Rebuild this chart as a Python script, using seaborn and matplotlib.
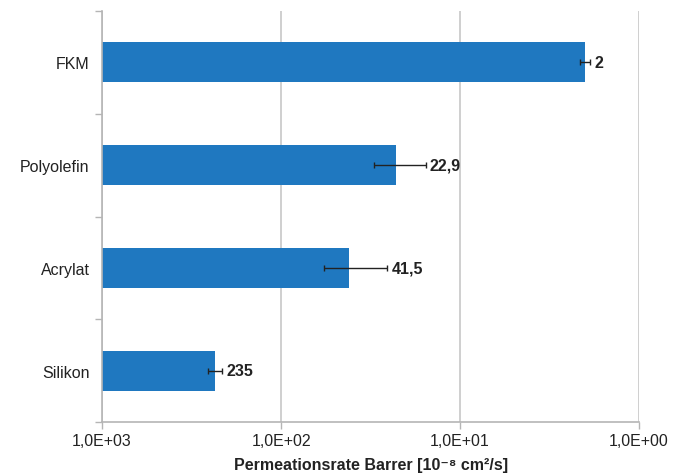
import numpy as np
import pandas as pd
import matplotlib
matplotlib.use("Agg")
import matplotlib.pyplot as plt
import seaborn as sns
from matplotlib.ticker import FixedLocator, FuncFormatter

# daten aus dem bild
materials = ["FKM", "Polyolefin", "Acrylat", "Silikon"]
rates = [2.0, 22.9, 41.5, 235.0]
errors = [0.13, 7.3, 16.0, 22.0]
rate_labels = ["2", "22,9", "41,5", "235"]
x_ticks = [1000, 100, 10, 1]
x_tick_labels = ["1,0E+03", "1,0E+02", "1,0E+01", "1,0E+00"]

bar_color = "#1f78c0"
grid_color = "#cfcfcf"
axis_color = "#b5b5b5"

sns.set_theme(style="white")
plt.rcParams['font.family'] = ['Liberation Sans', 'DejaVu Sans']

df = pd.DataFrame({"material": materials, "rate": rates})

fig = plt.figure(figsize=(6.85, 4.77), dpi=100)
ax = fig.add_axes([0.149, 0.113, 0.784, 0.862])

sns.barplot(data=df, x="rate", y="material", orient="h", color=bar_color,
            saturation=1, width=0.39, errorbar=None, ax=ax, zorder=2)

# balken sollen bei 1000 beginnen (achse invertiert, log)
ax.set_xscale("log")
for p, v in zip(ax.patches, rates):
    p.set_x(v)
    p.set_width(x_ticks[0] - v)
    p.set_edgecolor("none")

ax.errorbar(rates, np.arange(len(rates)), xerr=errors, fmt="none",
            ecolor="#222222", elinewidth=1.0, capsize=2.5, capthick=1.0, zorder=3)

for i, (v, e, lab) in enumerate(zip(rates, errors, rate_labels)):
    ax.annotate(lab, xy=(v - e, i), xytext=(3, 0), textcoords="offset points",
                ha="left", va="center", fontsize=11.5, fontweight="bold",
                color="#222222")

ax.set_xlim(1000, 1)
ax.set_ylim(3.5, -0.5)
ax.xaxis.set_major_locator(FixedLocator(x_ticks))
ax.xaxis.set_minor_locator(FixedLocator([]))
ax.xaxis.set_major_formatter(FuncFormatter(
    lambda val, pos: x_tick_labels[x_ticks.index(round(val))] if round(val) in x_ticks else ""))

ax.grid(axis="x", color=grid_color, linewidth=1.4, zorder=0)
ax.set_axisbelow(True)

# kleine striche zwischen den kategorien
ax.yaxis.set_major_locator(FixedLocator(np.arange(len(materials))))
ax.yaxis.set_minor_locator(FixedLocator(np.arange(len(materials) + 1) - 0.5))
ax.tick_params(axis="y", which="major", length=0, labelsize=11.5, pad=9, labelcolor="#222222")
ax.tick_params(axis="y", which="minor", length=5, width=1, color=axis_color, left=True)
ax.tick_params(axis="x", which="major", length=5, width=1, color=axis_color, bottom=True,
               labelsize=11.5, pad=3, labelcolor="#222222")

for side in ["top", "right"]:
    ax.spines[side].set_visible(False)
for side in ["left", "bottom"]:
    ax.spines[side].set_color(axis_color)
    ax.spines[side].set_linewidth(1.2)

ax.set_ylabel("")
ax.set_xlabel("Permeationsrate Barrer [10⁻⁸ cm²/s]", fontsize=11.5,
              fontweight="bold", color="#222222", labelpad=6)

fig.savefig("out.png", dpi=100)
